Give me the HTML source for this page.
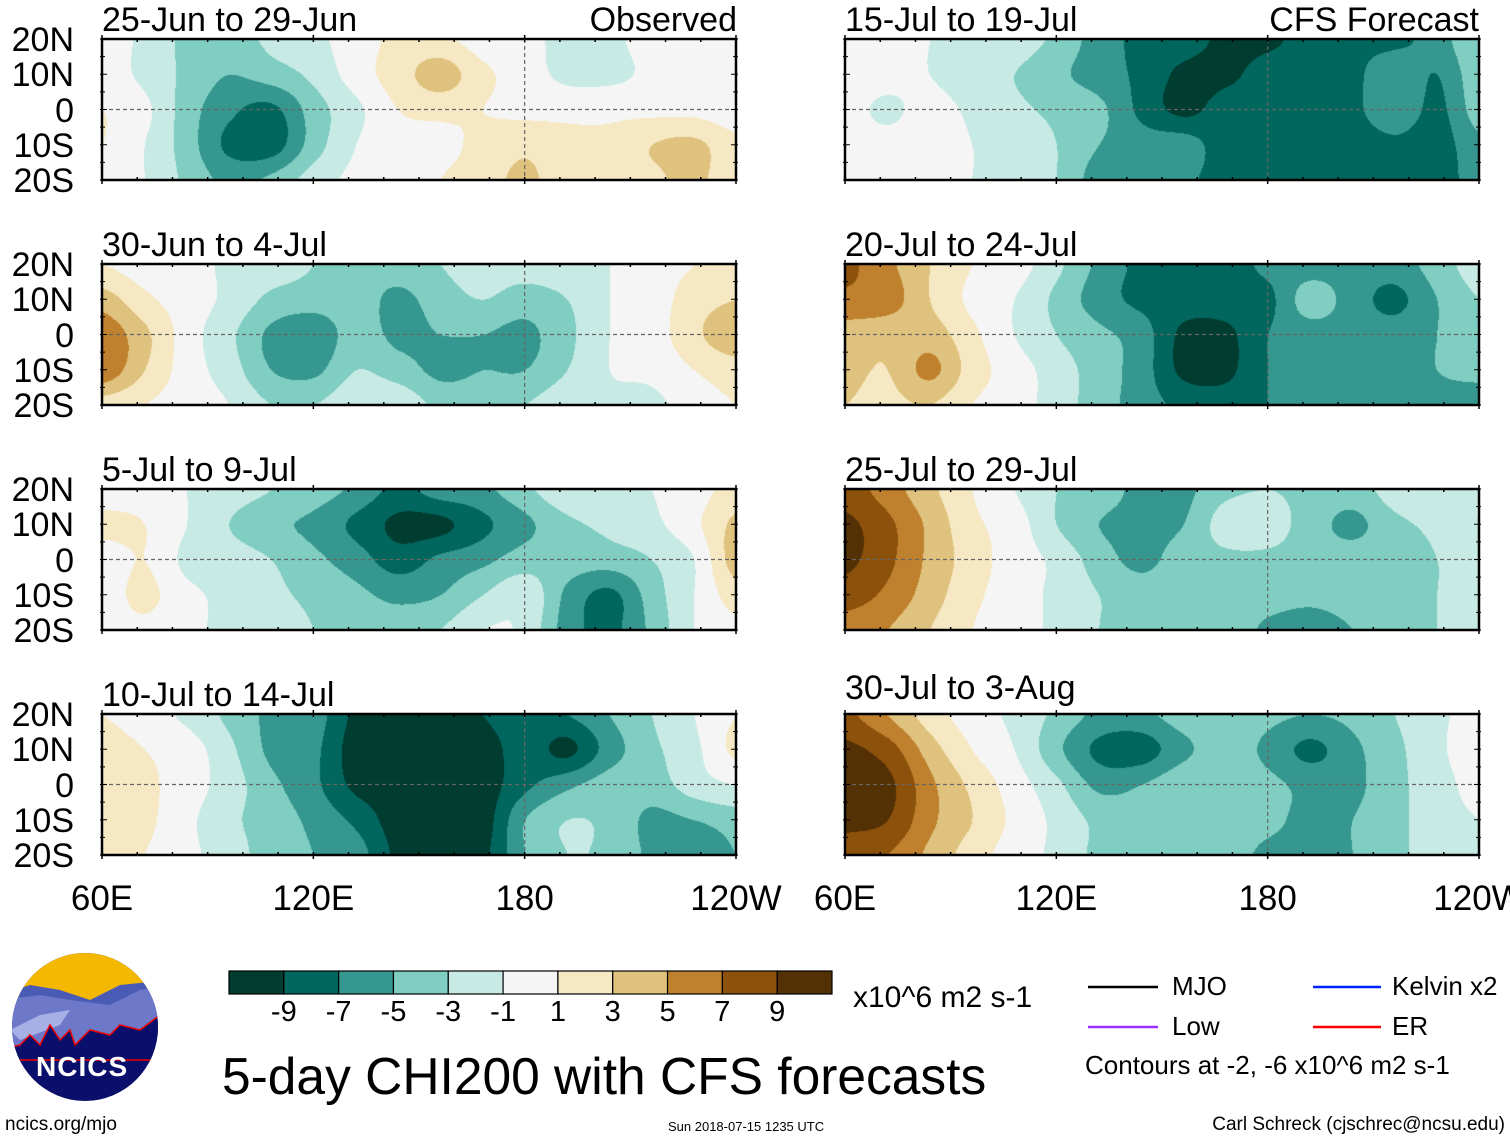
<!DOCTYPE html>
<html><head><meta charset="utf-8"><style>
body{margin:0;background:#fff;width:1510px;height:1142px;position:relative;overflow:hidden;font-family:"Liberation Sans",sans-serif;color:#000}
.t{position:absolute;white-space:nowrap;line-height:1}
canvas{position:absolute}
</style></head><body>
<svg id="ov" width="1510" height="1142" style="position:absolute;left:0;top:0"></svg>
<script>
// ---- data: CHI200 anomaly grids (rows 20N,10N,0,10S,20S; cols 60E..120W every 12 deg)
const lons=[60,72,84,96,108,120,132,144,156,168,180,192,204,216,228,240];
const lats=[20,10,0,-10,-20];
const levels=[-9,-7,-5,-3,-1,1,3,5,7,9];
const tickLabels=["-9","-7","-5","-3","-1","1","3","5","7","9"];
const panelTitles=["25-Jun to 29-Jun","30-Jun to 4-Jul","5-Jul to 9-Jul","10-Jul to 14-Jul","15-Jul to 19-Jul","20-Jul to 24-Jul","25-Jul to 29-Jul","30-Jul to 3-Aug"];
const latLabels=["20N","10N","0","10S","20S"];
const lonLabels=["60E","120E","180","120W"];
const p1=[[0,-1.5,-3.5,-4,-2.5,-1.5,0,1.5,1.5,0,-0.5,-1.5,-1.5,0,0.5,0],[0,-1.5,-3.5,-5,-4,-2.5,0,2,4,1.5,0,-1.5,-1.5,-0.5,0.5,1],[1,-0.5,-4,-6.5,-7.5,-4,-1.5,1,1.5,1,0.5,0.5,0.5,0.5,0.5,0],[1,-1,-4,-7.5,-8,-4,-1,0,0.5,1.5,2.5,1.5,1.5,3,3.5,1.5],[0.5,-1,-3.5,-5.5,-4.5,-2,-0.5,0,1,2,3.5,1.5,1.5,2.5,3.5,1.5]];
const p2=[[1,0,0,-1.5,-2,-3,-4,-4,-3,-2,-2,-1.5,-1,0,1,1.5],[4,1.5,0,-1.5,-3.5,-4,-4,-5.5,-4,-3,-4,-3,-1,0,2,3],[6.5,3.5,0,-2.5,-5.5,-6.5,-4,-5.5,-5,-5,-5.5,-3.5,-1,0,2.5,4.5],[6.5,3,0,-2,-5,-5.5,-3,-4,-5.5,-5,-5,-3,-1,-0.5,1,2],[2,1,0,-1,-3,-3,-1.5,-1.5,-3.5,-3.5,-3,-1.5,-1.5,-1.5,0,1]];
const p3=[[0,0,-1,-2,-3,-4,-5.5,-7.5,-6,-5.5,-3.5,-1.5,-1.5,-1,0,2],[1.5,1,-1,-3,-4.5,-5.5,-7.5,-9.5,-9.5,-7.5,-5.5,-3.5,-2.5,-1.5,0.5,3.5],[0,1,-1.5,-2,-3,-4.5,-6,-8,-6.5,-5.5,-4,-4,-4,-3,-1,4],[0,1.5,-0.5,-1.5,-2.5,-3.5,-4.5,-5.5,-5,-3,-1.5,-5.5,-7.5,-4,-1,2],[0,0.5,-0.5,-1.5,-2,-3,-4,-4,-3,-1,-1.5,-6,-7.5,-4.5,-1,0.5]];
const p4=[[1,0,-1.5,-3.5,-5.5,-6,-9.5,-10,-10,-9,-7.5,-7,-5,-3,-1,1],[2,1,0,-2.5,-5.5,-6.5,-10,-10,-10,-10,-8,-9.5,-6,-3.5,-1.5,1.5],[3,1.5,0,-2,-4.5,-6.5,-9.5,-10,-10,-10,-7.5,-5.5,-4,-4,-2,-1],[2.5,1.5,-0.5,-2.5,-4,-5.5,-7.5,-10,-10,-10,-5,-3,-3.5,-5.5,-5,-4],[2,1,-0.5,-2,-4,-5,-6,-9.5,-10,-9.5,-5,-3,-3.5,-5.5,-7,-5]];
const p5=[[1,0,-1,-1.5,-2,-3.5,-6,-7.5,-8,-9.5,-9.5,-8,-7.5,-7.5,-6,-3],[0,0,-1,-2.5,-3,-4.5,-6,-7.5,-9.5,-9.5,-8,-7.5,-7.5,-5.5,-7,-3.5],[0,-1.5,0,-1.5,-2.5,-3.5,-4.5,-7.5,-9.5,-8,-8,-7.5,-7.5,-5.5,-7.5,-4],[0,0,0.5,-1,-1.5,-3,-5,-6,-6,-8,-7.5,-7.5,-8,-7.5,-8,-5.5],[0,0,0,-1,-1.5,-3,-6,-6,-6.5,-8,-8,-7.5,-7.5,-7.5,-8,-6]];
const p6=[[7.5,5.5,3,1,0,-2.5,-5.5,-7.5,-8,-8,-6.5,-6,-6,-6,-4,-2],[6.5,6,3,0.5,-1,-3.5,-6,-7.5,-8,-8,-7.5,-4,-6,-7.5,-5,-3],[4,3.5,4,1.5,-1,-3,-4.5,-6,-9.5,-9.5,-7,-6,-6,-6,-5,-3.5],[3.5,3,5.5,2,0,-2,-4,-6,-9.5,-9.5,-7,-6,-6,-6,-5,-4],[3,2.5,3,1,0,-2,-4,-6,-7.5,-8,-7,-6,-6,-6,-6,-7]];
const p7=[[8,6,3.5,1,-1,-3,-4,-5.5,-5.5,-3.5,-3,-3.5,-4,-2,-1.5,-1],[9.5,7.5,4.5,1.5,0,-3,-5,-5.5,-5,-2,-2,-4,-5.5,-3.5,-2.5,-1],[9.5,7.5,4.5,2,0,-1.5,-4,-5.5,-4,-3.5,-3.5,-4,-4,-3.5,-3,-1.5],[8,6.5,4,1.5,0,-1.5,-3,-4,-3.5,-3.5,-4,-4.5,-4,-3.5,-3,-2],[6,5,3,1,0,-1.5,-3,-4,-3.5,-3.5,-5.5,-6,-5,-3.5,-3,-2]];
const p8=[[7.5,5,2,0,-1.5,-3.5,-5.5,-5.5,-4,-3.5,-4.5,-5,-4.5,-3,-1.5,0],[9.5,8,4,1,-1,-4.5,-7.5,-8,-5.5,-4,-5.5,-7.5,-5.5,-3.5,-1.5,0.5],[9.5,9.5,5.5,2.5,0,-2.5,-5.5,-5,-3.5,-3.5,-4.5,-5.5,-5.5,-3.5,-2,0],[9.5,9,5.5,3,0.5,-1.5,-3.5,-4,-3.5,-3.5,-4.5,-5.5,-5,-3.5,-2,-1],[8,7,4.5,2,0,-1.5,-3.5,-4,-3.5,-4,-5.5,-5.5,-5,-3.5,-2,-1]];
const panelData=[p1,p2,p3,p4,p5,p6,p7,p8];
const colors=["#003c30","#01665e","#35978f","#80cdc1","#c7eae5","#f5f5f5","#f6e8c3","#dfc27d","#bf812d","#8c510a","#543005"];

const PW=634,PH=141;
const colX=[102,845];
const rowY=[39,264,489,714];
function xScale(lon){return (lon-60)/180*PW;}
function yScale(lat){return (20-lat)/40*PH;}
function hex(c){return [parseInt(c.substr(1,2),16),parseInt(c.substr(3,2),16),parseInt(c.substr(5,2),16)];}
const rgb=colors.map(hex);
function cr(p0,p1,p2,p3,t){return 0.5*((2*p1)+(-p0+p2)*t+(2*p0-5*p1+4*p2-p3)*t*t+(-p0+3*p1-3*p2+p3)*t*t*t);}
function at(g,j,i){j=Math.max(0,Math.min(g.length-1,j));i=Math.max(0,Math.min(g[0].length-1,i));return g[j][i];}
function sample(g,lon,lat){
  let fx=(lon-lons[0])/(lons[1]-lons[0]);let fy=(lats[0]-lat)/(lats[0]-lats[1]);
  fx=Math.max(0,Math.min(lons.length-1.0001,fx));fy=Math.max(0,Math.min(lats.length-1.0001,fy));
  const i=Math.floor(fx),j=Math.floor(fy),a=fx-i,b=fy-j;
  const r=[];for(let k=-1;k<=2;k++){r.push(cr(at(g,j+k,i-1),at(g,j+k,i),at(g,j+k,i+1),at(g,j+k,i+2),a));}
  return cr(r[0],r[1],r[2],r[3],b);
}
const NS="http://www.w3.org/2000/svg";
const ov=document.getElementById('ov');
function sv(tag,attrs){const e=document.createElementNS(NS,tag);for(const k in attrs)e.setAttribute(k,attrs[k]);ov.appendChild(e);return e;}
function txt(s,left,top,size,extra){const d=document.createElement('div');d.className='t';d.textContent=s;d.style.left=left+'px';d.style.top=top+'px';d.style.fontSize=size+'px';if(extra)Object.assign(d.style,extra);document.body.appendChild(d);return d;}

panelData.forEach((g,p)=>{
  const col=p<4?0:1,row=p%4;
  const X=colX[col],Y=rowY[row];
  const cv=document.createElement('canvas');cv.width=PW;cv.height=PH;cv.style.left=X+'px';cv.style.top=Y+'px';
  
  
  document.body.insertBefore(cv,ov);
  const ctx=cv.getContext('2d');const im=ctx.createImageData(PW,PH);
  for(let y=0;y<PH;y++)for(let x=0;x<PW;x++){
    const lon=60+x/PW*180,lat=20-y/PH*40;const v=sample(g,lon,lat);
    let i=0;while(i<levels.length&&v>levels[i])i++;const c=rgb[i];const o=(y*PW+x)*4;
    im.data[o]=c[0];im.data[o+1]=c[1];im.data[o+2]=c[2];im.data[o+3]=255;}
  ctx.putImageData(im,0,0);
  const eq=sv('line',{x1:X,x2:X+PW,y1:Y+yScale(0),y2:Y+yScale(0),stroke:'#666','stroke-width':1.2,'stroke-dasharray':'4,3'});
  
  const dl=sv('line',{x1:X+xScale(180),x2:X+xScale(180),y1:Y,y2:Y+PH,stroke:'#666','stroke-width':1.2,'stroke-dasharray':'4,3'});
  
  const fr=sv('rect',{x:X,y:Y,width:PW,height:PH,fill:'none',stroke:'#000','stroke-width':2.5});
  
  for(let lon=60;lon<=240;lon+=10){const tx=X+xScale(lon);const L=(lon%60==0)?7:3;
    sv('line',{x1:tx,x2:tx,y1:Y-L+3,y2:Y+3,stroke:'#000','stroke-width':1.5});sv('line',{x1:tx,x2:tx,y1:Y+PH-3,y2:Y+PH+L-3,stroke:'#000','stroke-width':1.5});}
  for(let la=20;la>=-20;la-=5){const ty=Y+yScale(la);const L=(la%10==0)?5:3;sv('line',{x1:X-2,x2:X+L,y1:ty,y2:ty,stroke:'#000'});sv('line',{x1:X+PW-L,x2:X+PW+2,y1:ty,y2:ty,stroke:'#000'});}
  const tTop=(p==7)?671:Y-36;
  const t=txt(panelTitles[p],X,tTop,34);
  
  if(col==0){latLabels.forEach((s,i)=>{const l=txt(s,0,Y+yScale(lats[i])-16,34,{width:'74px',textAlign:'right'});});}
});
const ob=txt("Observed",0,3,34,{width:'737px',textAlign:'right'});
const cf=txt("CFS Forecast",0,3,34,{width:'1479px',textAlign:'right'});
colX.forEach(X=>{lonLabels.forEach((s,i)=>{const l=txt(s,X+xScale(60+i*60)-70,881,35,{width:'140px',textAlign:'center'});});});
const cbX=229,cbY=971,cbW=603,cbH=23,bw=cbW/colors.length;
colors.forEach((c,i)=>{const r=sv('rect',{x:cbX+i*bw,y:cbY,width:bw,height:cbH,fill:c,stroke:'#000','stroke-width':1.2});});
tickLabels.forEach((s,i)=>{const l=txt(s,cbX+(i+1)*bw-30,998,29,{width:'60px',textAlign:'center'});});
</script>
<div class="t" style="left:853px;top:983px;font-size:30px">x10^6 m2 s-1</div>
<div class="t" style="left:222px;top:1051px;font-size:51.5px">5-day CHI200 with CFS forecasts</div>
<svg width="1510" height="1142" style="position:absolute;left:0;top:0">
<line x1="1088" y1="987" x2="1158" y2="987" stroke="#000" stroke-width="2.5"/>
<line x1="1088" y1="1027" x2="1158" y2="1027" stroke="#9b30ff" stroke-width="2.5"/>
<line x1="1313" y1="987" x2="1381" y2="987" stroke="#0020ff" stroke-width="2.5"/>
<line x1="1313" y1="1027" x2="1381" y2="1027" stroke="#ff0000" stroke-width="2.5"/>
<defs><clipPath id="lc"><ellipse cx="85" cy="1027" rx="73" ry="74"/></clipPath></defs>
<g clip-path="url(#lc)">
<rect x="0" y="950" width="170" height="160" fill="#0a0f6b"/>
<rect x="0" y="950" width="170" height="60" fill="#f5b800"/>
<path d="M0 995 L30 985 L60 990 L90 1000 L120 985 L170 980 L170 1050 L0 1050Z" fill="#4a5bb5"/>
<path d="M0 1000 L40 995 L70 1000 L110 1005 L140 990 L170 985 L170 1050 L0 1050Z" fill="#6d78c8"/>
<path d="M10 1030 L40 1015 L70 1010 L60 1025 L20 1040Z" fill="#a7b0e6"/>
<path d="M0 1050 L20 1045 L30 1035 L40 1045 L50 1025 L60 1040 L70 1030 L75 1045 L90 1030 L110 1035 L120 1025 L140 1030 L160 1015 L170 1010 L170 1060 L0 1060Z" fill="#0a0f6b" stroke="#e00" stroke-width="1.5"/>
</g>
</svg>
<div class="t" style="left:36px;top:1053px;font-size:28px;font-weight:bold;color:#fff;letter-spacing:1px">NCICS</div>
<div class="t" style="left:1172px;top:973px;font-size:26px">MJO</div>
<div class="t" style="left:1172px;top:1013px;font-size:26px">Low</div>
<div class="t" style="left:1392px;top:973px;font-size:26px">Kelvin x2</div>
<div class="t" style="left:1392px;top:1013px;font-size:26px">ER</div>
<div class="t" style="left:1085px;top:1052px;font-size:26px">Contours at -2, -6 x10^6 m2 s-1</div>
<div class="t" style="left:5px;top:1115px;font-size:19px">ncics.org/mjo</div>
<div class="t" style="left:668px;top:1120px;font-size:13px">Sun 2018-07-15 1235 UTC</div>
<div class="t" style="left:0;width:1505px;text-align:right;top:1115px;font-size:19px">Carl Schreck (cjschrec@ncsu.edu)</div>
</body></html>
